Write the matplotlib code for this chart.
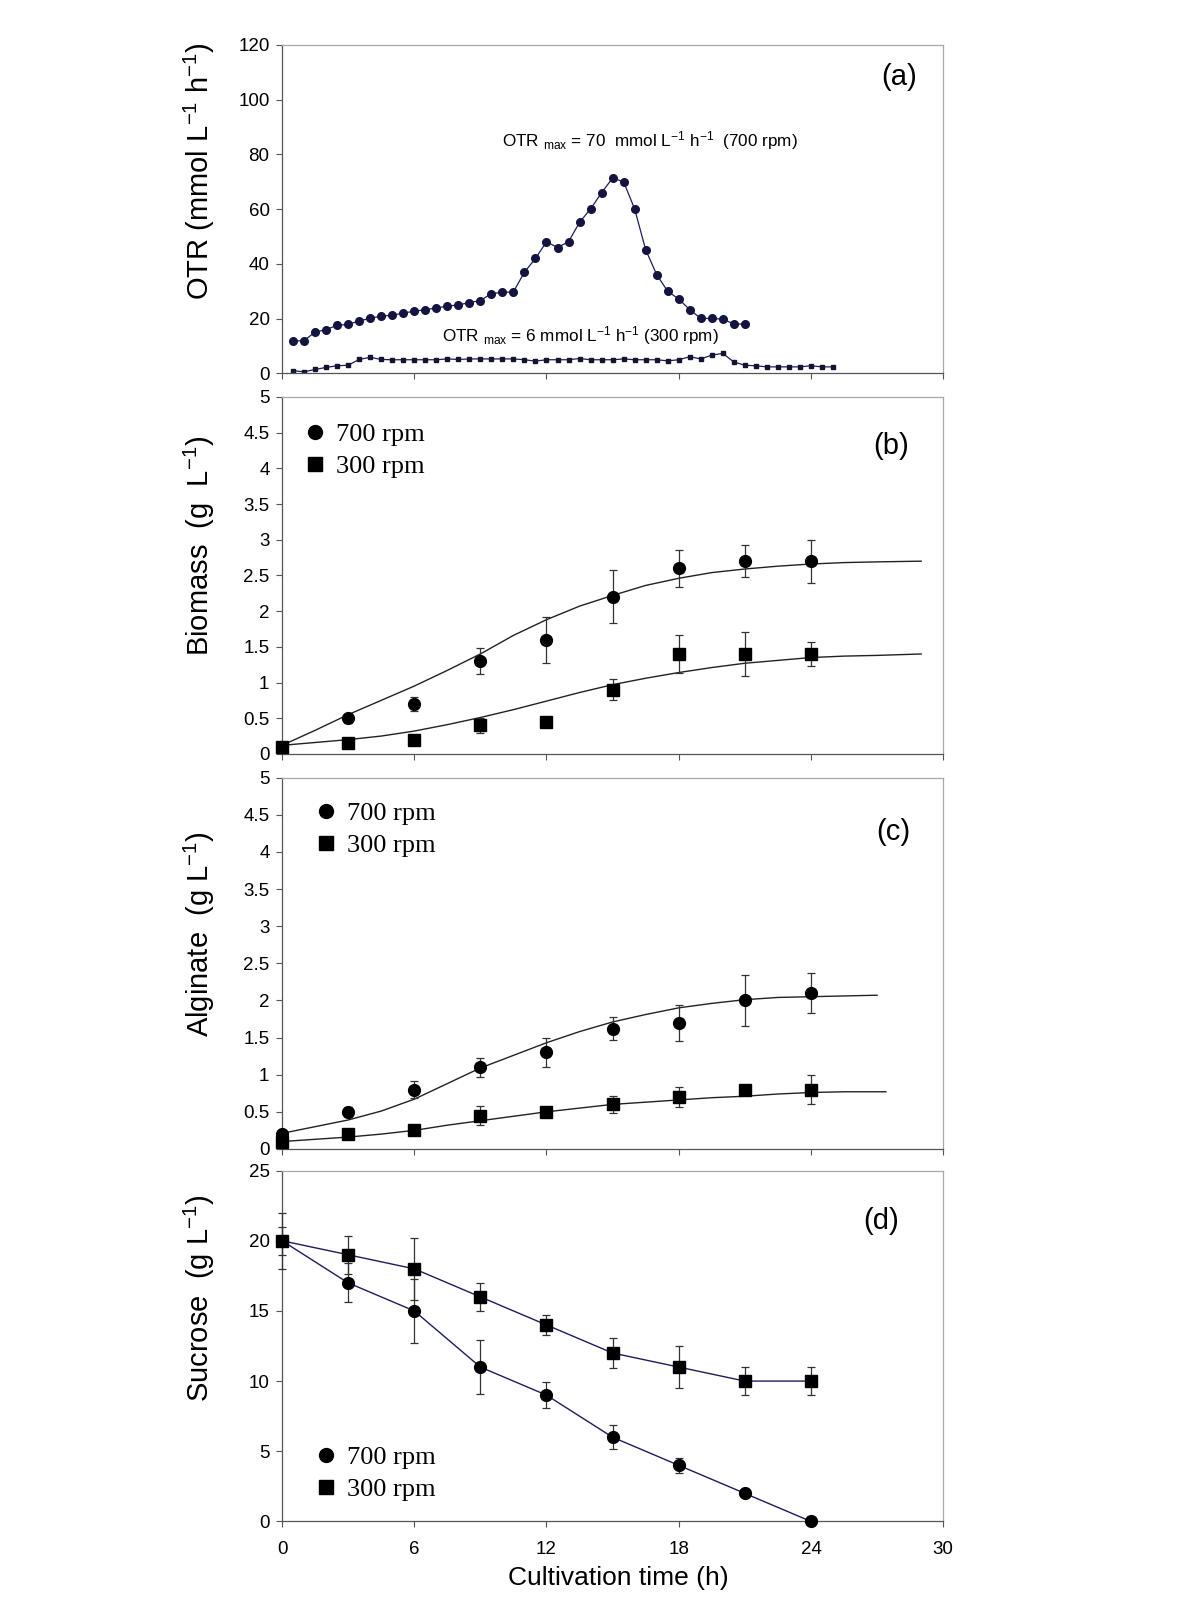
import matplotlib
matplotlib.use("Agg")
import matplotlib.pyplot as plt
from matplotlib.lines import Line2D
from matplotlib.ticker import FuncFormatter

plt.rcParams['font.family'] = ['Liberation Sans', 'DejaVu Sans']
plt.rcParams['mathtext.fontset'] = 'custom'
plt.rcParams['mathtext.rm'] = 'Liberation Sans'
plt.rcParams['mathtext.it'] = 'Liberation Sans:italic'
plt.rcParams['mathtext.bf'] = 'Liberation Sans:bold'

# ---- (a) OTR, every 0.5 h ----
otr_t_700 = [0.5, 1.0, 1.5, 2.0, 2.5, 3.0, 3.5, 4.0, 4.5, 5.0, 5.5, 6.0, 6.5, 7.0,
             7.5, 8.0, 8.5, 9.0, 9.5, 10.0, 10.5, 11.0, 11.5, 12.0, 12.5, 13.0,
             13.5, 14.0, 14.5, 15.0, 15.5, 16.0, 16.5, 17.0, 17.5, 18.0, 18.5,
             19.0, 19.5, 20.0, 20.5, 21.0]
otr_700 = [11.8, 12.0, 15.1, 16.0, 17.6, 17.9, 19.2, 20.1, 21.0, 21.2, 22.1, 22.7,
           23.3, 23.9, 24.6, 25.0, 25.9, 26.6, 29.2, 29.6, 29.8, 37.0, 42.0, 48.1,
           46.0, 48.1, 55.2, 60.1, 66.0, 71.4, 70.0, 60.1, 45.2, 36.1, 30.0, 27.2,
           23.3, 20.1, 20.1, 19.8, 18.1, 18.0]

otr_t_300 = [0.5, 1.0, 1.5, 2.0, 2.5, 3.0, 3.5, 4.0, 4.5, 5.0, 5.5, 6.0, 6.5, 7.0,
             7.5, 8.0, 8.5, 9.0, 9.5, 10.0, 10.5, 11.0, 11.5, 12.0, 12.5, 13.0,
             13.5, 14.0, 14.5, 15.0, 15.5, 16.0, 16.5, 17.0, 17.5, 18.0, 18.5,
             19.0, 19.5, 20.0, 20.5, 21.0, 21.5, 22.0, 22.5, 23.0, 23.5, 24.0,
             24.5, 25.0]
otr_300 = [1.0, 0.6, 1.45, 2.2, 2.8, 3.0, 5.1, 5.9, 5.1, 5.0, 5.0, 5.0, 5.0, 5.0,
           5.3, 5.1, 5.3, 5.3, 5.3, 5.3, 5.3, 5.0, 4.5, 5.0, 5.0, 5.0, 5.45, 5.0,
           5.0, 5.0, 5.3, 5.0, 5.0, 5.0, 4.6, 5.0, 6.1, 5.3, 6.7, 7.3, 4.2, 3.0,
           2.8, 2.4, 2.4, 2.4, 2.4, 2.8, 2.4, 2.4]

# ---- (b)-(d) sampled every 3 h ----
t_samples = [0, 3, 6, 9, 12, 15, 18, 21, 24]

bio_700 = [0.1, 0.5, 0.7, 1.3, 1.6, 2.2, 2.6, 2.7, 2.7]
bio_700_err = [0, 0.06, 0.1, 0.18, 0.32, 0.37, 0.26, 0.22, 0.3]
bio_300 = [0.1, 0.15, 0.2, 0.4, 0.45, 0.9, 1.4, 1.4, 1.4]
bio_300_err = [0, 0.03, 0, 0.11, 0.02, 0.15, 0.27, 0.31, 0.17]

fit_t = [0, 1.5, 3, 4.5, 6, 7.5, 9, 10.5, 12, 13.5, 15, 16.5, 18, 19.5, 21,
         22.5, 24, 25.5, 27, 29]
bio_fit_700 = [0.12, 0.33, 0.55, 0.75, 0.95, 1.17, 1.4, 1.66, 1.88, 2.07, 2.22,
               2.36, 2.46, 2.54, 2.59, 2.63, 2.66, 2.68, 2.69, 2.7]
bio_fit_300 = [0.12, 0.16, 0.2, 0.25, 0.32, 0.41, 0.51, 0.62, 0.74, 0.86, 0.97,
               1.06, 1.14, 1.21, 1.27, 1.31, 1.35, 1.37, 1.38, 1.4]

alg_700 = [0.2, 0.5, 0.8, 1.1, 1.3, 1.62, 1.7, 2.0, 2.1]
alg_700_err = [0.03, 0.07, 0.12, 0.13, 0.19, 0.15, 0.24, 0.34, 0.27]
alg_300 = [0.1, 0.2, 0.25, 0.45, 0.5, 0.6, 0.7, 0.8, 0.8]
alg_300_err = [0, 0.03, 0.02, 0.13, 0.03, 0.11, 0.14, 0.03, 0.2]

alg_fit_t_700 = [0, 1.5, 3, 4.5, 6, 7.5, 9, 10.5, 12, 13.5, 15, 16.5, 18, 19.5,
                 21, 22.5, 24, 25.5, 27]
alg_fit_700 = [0.21, 0.3, 0.39, 0.51, 0.67, 0.88, 1.09, 1.26, 1.43, 1.58, 1.71,
               1.81, 1.9, 1.96, 2.01, 2.04, 2.05, 2.06, 2.07]
alg_fit_t_300 = [0, 1.5, 3, 4.5, 6, 7.5, 9, 10.5, 12, 13.5, 15, 16.5, 18, 19.5,
                 21, 22.5, 24, 25.5, 27.4]
alg_fit_300 = [0.1, 0.13, 0.16, 0.2, 0.25, 0.32, 0.38, 0.44, 0.5, 0.55, 0.6,
               0.63, 0.66, 0.69, 0.71, 0.74, 0.76, 0.77, 0.77]

suc_700 = [20, 17, 15, 11, 9, 6, 4, 2, 0]
suc_700_err = [2, 1.4, 2.3, 1.9, 0.9, 0.85, 0.55, 0.2, 0]
suc_300 = [20, 19, 18, 16, 14, 12, 11, 10, 10]
suc_300_err = [1, 1.35, 2.2, 1, 0.7, 1.1, 1.5, 1, 1]

x_ticks = [0, 6, 12, 18, 24, 30]
legend_labels = ['700 rpm', '300 rpm']

NAVY = '#1c1c60'
SPINE_DARK = '#555555'
SPINE_LIGHT = '#a8a8a8'

fig = plt.figure(figsize=(12, 16), dpi=100)
left, width = 0.235, 0.551
ax_a = fig.add_axes([left, 0.7666, width, 0.2053])
ax_b = fig.add_axes([left, 0.5288, width, 0.2231])
ax_c = fig.add_axes([left, 0.2819, width, 0.2321])
ax_d = fig.add_axes([left, 0.0491, width, 0.2193])

fmt = FuncFormatter(lambda v, p: '%g' % v)


def style(ax, ymax, ystep, show_x=False):
    ax.set_xlim(0, 30)
    ax.set_xticks(x_ticks)
    ax.set_ylim(0, ymax)
    n = int(round(ymax / ystep))
    ax.set_yticks([i * ystep for i in range(n + 1)])
    ax.yaxis.set_major_formatter(fmt)
    ax.spines['left'].set_color(SPINE_DARK)
    ax.spines['bottom'].set_color(SPINE_DARK)
    ax.spines['top'].set_color(SPINE_LIGHT)
    ax.spines['right'].set_color(SPINE_LIGHT)
    for s in ax.spines.values():
        s.set_linewidth(0.9)
    ax.tick_params(direction='out', length=4, width=0.8, color=SPINE_DARK,
                   labelcolor='black', labelsize=13.5, pad=5)
    ax.tick_params(axis='x', labelbottom=show_x, pad=10)


def legend(ax, x, y):
    handles = [Line2D([], [], marker='o', ls='none', color='black', ms=10),
               Line2D([], [], marker='s', ls='none', color='black', ms=9.5)]
    ax.legend(handles, legend_labels, loc='upper left', bbox_to_anchor=(x, y),
              frameon=False, handlelength=1.0, handletextpad=0.3,
              labelspacing=0.32, borderpad=0, borderaxespad=0,
              prop={'family': 'Liberation Serif', 'size': 19})


def errplot(ax, y, err, marker, ms):
    ax.errorbar(t_samples, y, yerr=err, fmt=marker, color='black', ms=ms,
                ecolor='#333333', elinewidth=0.9, capsize=3, capthick=0.9,
                clip_on=False, zorder=3)


# (a)
ax_a.plot(otr_t_700, otr_700, '-o', color=NAVY, lw=0.9, ms=5.5,
          mfc='#141440', mec='#141440')
ax_a.plot(otr_t_300, otr_300, '-s', color=NAVY, lw=0.9, ms=2.6,
          mfc='#141430', mec='#141430')
style(ax_a, 120, 20)
ax_a.text(10.0, 84.9, r'OTR $_{\rm max}$ = 70  mmol L$^{-1}$ h$^{-1}$  (700 rpm)',
          ha='left', va='center', fontsize=12.3)
ax_a.text(7.25, 14.0, r'OTR $_{\rm max}$ = 6 mmol L$^{-1}$ h$^{-1}$ (300 rpm)',
          ha='left', va='center', fontsize=12.3)
ax_a.text(0.933, 0.902, '(a)', transform=ax_a.transAxes, ha='center',
          va='center', fontsize=21)
ax_a.set_ylabel(r'OTR (mmol L$^{-1}$ h$^{-1}$)', fontsize=21)
ax_a.yaxis.set_label_coords(-0.099, 0.615)

# (b)
ax_b.plot(fit_t, bio_fit_700, color='#222222', lw=1.0)
ax_b.plot(fit_t, bio_fit_300, color='#222222', lw=1.0)
errplot(ax_b, bio_700, bio_700_err, 'o', 8.5)
errplot(ax_b, bio_300, bio_300_err, 's', 8)
style(ax_b, 5, 0.5)
legend(ax_b, 0.03, 0.928)
ax_b.text(0.921, 0.863, '(b)', transform=ax_b.transAxes, ha='center',
          va='center', fontsize=21)
ax_b.set_ylabel(r'Biomass  (g  L$^{-1}$)', fontsize=21)
ax_b.yaxis.set_label_coords(-0.099, 0.583)

# (c)
ax_c.plot(alg_fit_t_700, alg_fit_700, color='#222222', lw=1.0)
ax_c.plot(alg_fit_t_300, alg_fit_300, color='#222222', lw=1.0)
errplot(ax_c, alg_700, alg_700_err, 'o', 8.5)
errplot(ax_c, alg_300, alg_300_err, 's', 8)
style(ax_c, 5, 0.5)
legend(ax_c, 0.047, 0.935)
ax_c.text(0.924, 0.854, '(c)', transform=ax_c.transAxes, ha='center',
          va='center', fontsize=21)
ax_c.set_ylabel(r'Alginate  (g L$^{-1}$)', fontsize=21)
ax_c.yaxis.set_label_coords(-0.099, 0.579)

# (d)
ax_d.plot(t_samples, suc_700, color=NAVY, lw=1.0, zorder=2)
ax_d.plot(t_samples, suc_300, color=NAVY, lw=1.0, zorder=2)
errplot(ax_d, suc_700, suc_700_err, 'o', 8.5)
errplot(ax_d, suc_300, suc_300_err, 's', 8)
style(ax_d, 25, 5, show_x=True)
legend(ax_d, 0.047, 0.215)
ax_d.text(0.906, 0.856, '(d)', transform=ax_d.transAxes, ha='center',
          va='center', fontsize=21)
ax_d.set_ylabel(r'Sucrose  (g L$^{-1}$)', fontsize=21)
ax_d.yaxis.set_label_coords(-0.099, 0.637)
ax_d.set_xlabel('Cultivation time (h)', fontsize=19, labelpad=6)
ax_d.xaxis.label.set_x(0.508)

fig.savefig('out.png', dpi=100)
